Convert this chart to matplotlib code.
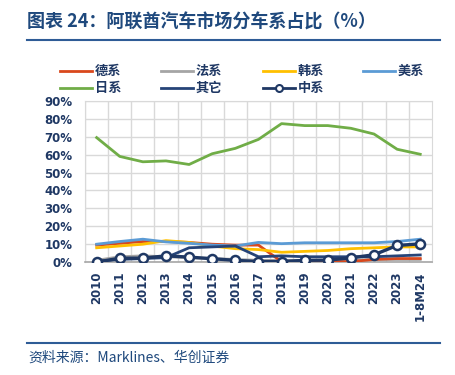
import matplotlib
matplotlib.use("Agg")
import matplotlib.pyplot as plt
from matplotlib.lines import Line2D

plt.rcParams['font.family'] = ['Noto Sans CJK SC', 'DejaVu Sans']

# 数据（读图估计，单位 %）
years = ["2010", "2011", "2012", "2013", "2014", "2015", "2016", "2017",
         "2018", "2019", "2020", "2021", "2022", "2023", "1-8M24"]
de = [9.5, 10.5, 11.5, 11.5, 11.0, 10.0, 9.5, 9.5, 0.3, 0.2, 0.2, 0.3, 1.5, 2.0, 2.0]
fr = [1.0, 3.0, 3.5, 3.0, 2.5, 2.0, 1.5, 1.0, 1.0, 1.0, 1.0, 1.0, 1.5, 1.5, 1.5]
kr = [8.0, 9.0, 10.0, 12.0, 11.0, 9.0, 7.5, 7.0, 5.5, 6.0, 6.5, 7.5, 8.0, 8.5, 8.5]
us = [10.0, 11.5, 12.8, 11.3, 10.5, 9.5, 9.0, 11.0, 10.3, 10.8, 10.8, 10.8, 10.8, 11.5, 12.8]
jp = [69.5, 59.0, 56.0, 56.5, 54.5, 60.5, 63.5, 68.5, 77.3, 76.2, 76.2, 74.7, 71.5, 63.0, 60.2]
other = [0.5, 1.5, 2.0, 2.5, 8.0, 8.5, 9.0, 3.0, 3.5, 3.0, 3.0, 3.0, 3.0, 3.5, 4.0]
cn = [0.0, 2.2, 2.2, 3.5, 2.8, 1.9, 1.0, 0.3, 0.3, 1.0, 1.1, 2.4, 4.1, 9.3, 10.2]

navy = "#1F3864"
c_de, c_fr, c_kr, c_us = "#D9481C", "#A5A5A5", "#FFC000", "#5B9BD5"
c_jp, c_ot = "#70AD47", "#264478"
x = list(range(len(years)))

fig = plt.figure(figsize=(4.55, 3.75), dpi=100)
ax = fig.add_axes([0.187, 0.301, 0.762, 0.430])

lw = 2.0
ax.plot(x, fr, color=c_fr, lw=lw, zorder=3)
ax.plot(x, de, color=c_de, lw=lw, zorder=3)
ax.plot(x, kr, color=c_kr, lw=lw, zorder=3)
ax.plot(x, us, color=c_us, lw=lw, zorder=4)
ax.plot(x, jp, color=c_jp, lw=lw, zorder=4)
ax.plot(x, other, color=c_ot, lw=lw, zorder=4)
ax.plot(x, cn, color=navy, lw=2.4, marker="o", ms=6.5, mfc="white",
        mec=navy, mew=1.8, zorder=5)

ax.set_xlim(-0.5, len(years) - 0.5)
ax.set_ylim(0, 90)
ax.set_yticks(range(0, 91, 10))
ax.set_yticklabels([f"{v}%" for v in range(0, 91, 10)])
ax.set_xticks(x)
ax.set_xticklabels(years, rotation=90)
ax.set_xticks([i + 0.5 for i in x[:-1]] + [-0.5], minor=True)
ax.grid(True, which="major", axis="y", color="#D9D9D9", lw=1)
ax.grid(True, which="minor", axis="x", color="#D9D9D9", lw=1)
ax.tick_params(which="both", length=0)
ax.tick_params(axis="both", labelcolor=navy, labelsize=8.5)
ax.tick_params(axis="y", pad=9)
ax.tick_params(axis="x", pad=7)
for lab in ax.get_xticklabels() + ax.get_yticklabels():
    lab.set_fontweight("bold")
    lab.set_fontfamily("DejaVu Sans")
for side in ["top", "right", "left"]:
    ax.spines[side].set_color("#D9D9D9")
ax.spines["bottom"].set_color("#A6A6A6")
ax.spines["bottom"].set_linewidth(1.2)

# 图例（手动排布，4列2行）
W, H = 455.0, 375.0
entries = [("德系", c_de, False), ("法系", c_fr, False), ("韩系", c_kr, False),
           ("美系", c_us, False), ("日系", c_jp, False), ("其它", c_ot, False),
           ("中系", navy, True)]
col_x = [60, 161, 263, 363]
row_y = [71, 88]
for i, (name, col, mk) in enumerate(entries):
    x0 = col_x[i % 4]
    y0 = row_y[i // 4]
    fig.add_artist(Line2D([x0 / W, (x0 + 32) / W], [1 - y0 / H, 1 - y0 / H],
                          color=col, lw=2))
    if mk:
        fig.add_artist(Line2D([(x0 + 16) / W], [1 - y0 / H], color=col,
                              marker="o", ms=5, mfc="white", mec=col, mew=1.5))
    fig.text((x0 + 35) / W, 1 - y0 / H, name, fontsize=9.5, fontweight="bold",
             color=navy, va="center")

# 标题与来源
fig.text(27 / W, 1 - 22 / H, "图表 24：阿联酋汽车市场分车系占比（%）", fontsize=13,
         fontweight="bold", color="#1F497D", va="center")
fig.add_artist(Line2D([27 / W, 440 / W], [1 - 40 / H, 1 - 40 / H], color="#2E5C96", lw=1.5))
fig.add_artist(Line2D([27 / W, 440 / W], [1 - 343 / H, 1 - 343 / H], color="#2E5C96", lw=1.5))
fig.text(28 / W, 1 - 358 / H, "资料来源：Marklines、华创证券", fontsize=10,
         style="italic", color="#1F497D", va="center")

fig.savefig("out.png", dpi=100)
